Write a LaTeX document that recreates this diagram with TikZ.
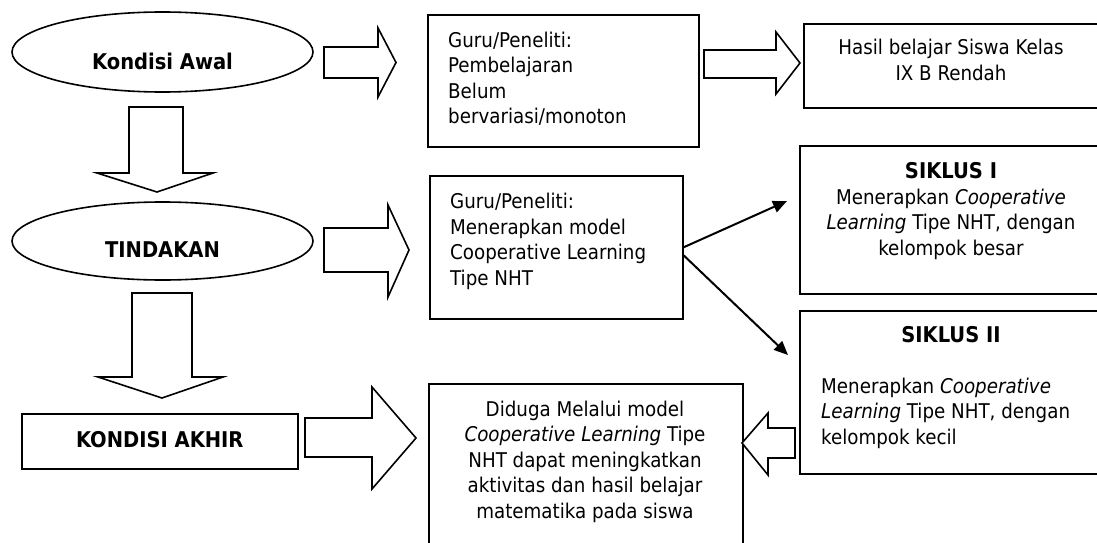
\documentclass[tikz,border=0pt]{standalone}
\usepackage{fontspec}
\setmainfont{DejaVu Sans Condensed}
\usetikzlibrary{shapes.geometric,arrows.meta}

\begin{document}
\begin{tikzpicture}[x=1pt,y=-1pt,
  oval/.style={ellipse, draw, line width=1.6pt, inner sep=0pt},
  box/.style={rectangle, draw, line width=1.6pt, anchor=north west, inner sep=0pt},
  txt/.style={inner sep=0pt, font=\fontsize{20.3}{25.5}\selectfont},
  hdr/.style={inner sep=0pt, font=\fontsize{21.7}{25.5}\selectfont\bfseries},
  blk/.style={draw, fill=white, line width=1.6pt, line join=miter},
  thinarr/.style={line width=2pt, -{Triangle[length=14pt,width=12pt]}}]
\useasboundingbox (0,0) rectangle (1097,543);
\clip (0,0) rectangle (1097,543);
% left column
\node[oval, minimum width=301pt, minimum height=80pt] (awal) at (162.5,52) {};
\node[hdr] (awalt) at ([yshift=-9pt]awal.center) {Kondisi Awal};
\node[oval, minimum width=301pt, minimum height=78pt] (tindakan) at (162.5,241) {};
\node[hdr] (tindakant) at ([yshift=-9pt]tindakan.center) {TINDAKAN};
\node[box, minimum width=276pt, minimum height=55pt] (akhir) at (21,413) {};
\node[hdr] (akhirt) at ([yshift=2pt]akhir.center) {KONDISI AKHIR};
% middle column (base = last line)
\node[box, minimum width=271pt, minimum height=132pt] (pre) at (427,14) {};
\node[txt, anchor=base west, align=left] (pret) at (448,123.5)
  {Guru/Peneliti:\\Pembelajaran\\Belum\\bervariasi/monoton};
\node[box, minimum width=253pt, minimum height=143pt] (nht) at (429,175) {};
\node[txt, anchor=base west, align=left] (nhtt) at (450,285)
  {Guru/Peneliti:\\Menerapkan model\\Cooperative Learning\\Tipe NHT};
\node[box, minimum width=314pt, minimum height=220pt] (duga) at (428,383) {};
\node[txt, anchor=base, align=center] (dugat) at (585,518)
  {Diduga Melalui model\\\textit{Cooperative Learning} Tipe\\NHT dapat meningkatkan\\aktivitas dan hasil belajar\\matematika pada siswa};
% right column
\node[box, minimum width=300pt, minimum height=84pt] (hasil) at (803,23) {};
\node[txt, anchor=base, align=center] (hasilt) at (951,80.5)
  {Hasil belajar Siswa Kelas\\IX B Rendah};
\node[box, minimum width=304pt, minimum height=148pt] (sik1) at (799,145) {};
\node[hdr, anchor=base] (sik1h) at (951,178) {SIKLUS I};
\node[txt, anchor=base, align=center] (sik1t) at (951,255)
  {Menerapkan \textit{Cooperative}\\\textit{Learning} Tipe NHT, dengan\\kelompok besar};
\node[box, minimum width=304pt, minimum height=163pt] (sik2) at (799,310) {};
\node[hdr, anchor=base] (sik2h) at (951,342) {SIKLUS II};
\node[txt, anchor=base west, align=left] (sik2t) at (821,444)
  {Menerapkan \textit{Cooperative}\\\textit{Learning} Tipe NHT, dengan\\kelompok kecil};
% block arrows
\draw[blk] (324,47) -- (378,47) -- (378,28) -- (396,62.5) -- (378,97) -- (378,78) -- (324,78) -- cycle;
\draw[blk] (704,50) -- (776,50) -- (776,32) -- (800,63) -- (776,94) -- (776,78) -- (704,78) -- cycle;
\draw[blk] (324,228) -- (388,228) -- (388,205) -- (409,250) -- (388,297) -- (388,272) -- (324,272) -- cycle;
\draw[blk] (305,418) -- (372,418) -- (372,387) -- (416,438) -- (372,489) -- (372,457) -- (305,457) -- cycle;
\draw[blk] (795,428) -- (768,428) -- (768,413) -- (742,443) -- (768,475) -- (768,458) -- (795,458) -- cycle;
\draw[blk] (129,107) -- (129,173) -- (97,173) -- (157,192) -- (213,173) -- (183,173) -- (183,107) -- cycle;
\draw[blk] (132,293) -- (132,377) -- (98,377) -- (162,398) -- (223,377) -- (192,377) -- (192,293) -- cycle;
% thin arrows to the cycles
\coordinate (k1) at (787,201);
\coordinate (k2) at (788,355);
\draw[thinarr] (nht.east) -- (k1);
\draw[thinarr] ([yshift=-8pt]nht.east) -- (k2);
\end{tikzpicture}
\end{document}
